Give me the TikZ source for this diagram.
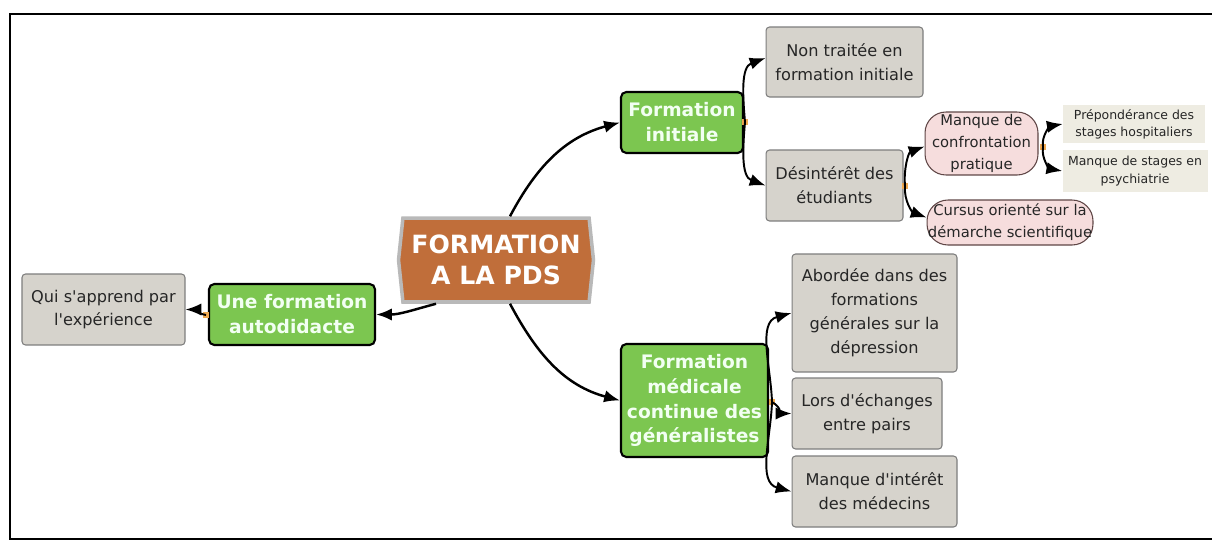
\documentclass[tikz,border=0pt]{standalone}
\usepackage{fontspec}
\setsansfont{DejaVu Sans}
\usetikzlibrary{arrows.meta,shapes.symbols}

\definecolor{pdsbrown}{RGB}{192,110,58}
\definecolor{pdsrim}{RGB}{185,185,185}
\definecolor{branchgreen}{RGB}{124,198,80}
\definecolor{leafgrey}{RGB}{214,211,204}
\definecolor{leafrim}{RGB}{125,125,125}
\definecolor{subpink}{RGB}{246,221,221}
\definecolor{subrim}{RGB}{95,70,70}
\definecolor{tipbeige}{RGB}{238,236,226}
\definecolor{knot}{RGB}{238,168,80}

\newcommand{\apos}{\textquotesingle}

\begin{document}
\begin{tikzpicture}[x=0.02cm, y=-0.02cm, font=\sffamily, >={Latex[length=9pt,width=7pt]},
    root/.style={signal, signal to=west and east, signal pointer angle=168, fill=pdsbrown,
        draw=pdsrim, line width=2pt, text=white, align=center, inner sep=0pt,
        font=\sffamily\bfseries\fontsize{14.3}{18}\selectfont},
    branch/.style={rectangle, rounded corners=3pt, fill=branchgreen, draw=black, line width=1.2pt,
        text=white!95!green, align=center, inner sep=0pt,
        font=\sffamily\bfseries\fontsize{10.6}{14.2}\selectfont},
    leaf/.style={rectangle, rounded corners=2pt, fill=leafgrey, draw=leafrim, line width=0.6pt,
        text=black!85, align=center, inner sep=0pt,
        font=\sffamily\fontsize{9.2}{13.6}\selectfont},
    sub/.style={rectangle, rounded corners=0.42cm, fill=subpink, draw=subrim, line width=0.6pt,
        text=black!85, align=center, inner sep=0pt,
        font=\sffamily\fontsize{8.4}{12.5}\selectfont},
    tip/.style={rectangle, fill=tipbeige, text=black!85, align=center, inner sep=0pt,
        font=\sffamily\fontsize{7.1}{9.8}\selectfont},
    knotdot/.style={rectangle, fill=knot, minimum size=3pt, inner sep=0pt},
    link/.style={->, line width=1.1pt},
    mainlink/.style={->, line width=1.4pt}]
    \useasboundingbox (0,0) rectangle (1212,541);

    % Frame.
    \draw [line width=1.2pt] (1212,14) -- (10,14) -- (10,539) -- (1212,539);

    % Centre.
    \node [root, minimum width=3.9cm, minimum height=1.68cm] (pds) at (496,260) {FORMATION\\A LA PDS};

    % Main branches.
    \node [branch, minimum width=2.44cm, minimum height=1.22cm] (initiale) at (682,122.5) {Formation\\initiale};
    \node [branch, minimum width=3.32cm, minimum height=1.22cm] (auto) at (292,314.5) {Une formation\\autodidacte};
    \node [branch, minimum width=2.94cm, minimum height=2.26cm] (fmc) at (694.5,400.5) {Formation\\m\'edicale\\continue des\\g\'en\'eralistes};

    % Leaves.
    \node [leaf, minimum width=3.14cm, minimum height=1.40cm] (nontraitee) at (844.5,62) {Non trait\'ee en\\formation initiale};
    \node [leaf, minimum width=2.74cm, minimum height=1.42cm] (desinteret) at (834.5,185.5) {D\'esint\'er\^et des\\\'etudiants};
    \node [leaf, minimum width=3.26cm, minimum height=1.42cm] (experience) at (103.5,309.5) {Qui s\apos{}apprend par\\l\apos{}exp\'erience};
    \node [leaf, minimum width=3.30cm, minimum height=2.36cm] (abordee) at (874.5,313) {Abord\'ee dans des\\formations\\g\'en\'erales sur la\\d\'epression};
    \node [leaf, minimum width=3.00cm, minimum height=1.42cm] (pairs) at (867,413.5) {Lors d\apos{}\'echanges\\entre pairs};
    \node [leaf, minimum width=3.30cm, minimum height=1.42cm] (medecins) at (874.5,491.5) {Manque d\apos{}int\'er\^et\\des m\'edecins};

    % Sub-branches of the students.
    \node [sub, minimum width=2.26cm, minimum height=1.26cm] (pratique) at (981.5,143.5) {Manque de\\confrontation\\pratique};
    \node [sub, minimum width=3.32cm, minimum height=0.90cm] (cursus) at (1010,222.5) {Cursus orient\'e sur la\\d\'emarche scientifique};
    \node [tip, minimum width=2.84cm, minimum height=0.76cm] (hospitaliers) at (1134,124) {Pr\'epond\'erance des\\stages hospitaliers};
    \node [tip, minimum width=2.90cm, minimum height=0.84cm] (psychiatrie) at (1135,171) {Manque de stages en\\psychiatrie};

    % Knots.
    \node [knotdot] (kinit) at (745,122) {};
    \node [knotdot] (kdes) at (905,186) {};
    \node [knotdot] (kprat) at (1043,147) {};
    \node [knotdot] (kfmc) at (772,402) {};
    \node [knotdot] (kauto) at (206,315) {};

    % Arrows from the centre.
    \draw [mainlink] ([xshift=0.28cm]pds.north) to[out=62, in=195] (initiale.west);
    \draw [mainlink] ([xshift=0.28cm]pds.south) to[out=-62, in=165] (fmc.west);
    \draw [mainlink] ([xshift=-1.2cm]pds.south) to[out=195, in=0] (auto.east);

    % Arrows to the leaves.
    \draw [link] (kinit.center) to[out=95, in=200] ([yshift=0.08cm]nontraitee.west);
    \draw [link] (kinit.center) to[out=-95, in=160] (desinteret.west);
    \draw [link] (kdes.center) to[out=95, in=200] ([yshift=-0.06cm]pratique.west);
    \draw [link] (kdes.center) to[out=-95, in=160] ([yshift=0.1cm]cursus.west);
    \draw [link] (kprat.center) to[out=100, in=190] (hospitaliers.west);
    \draw [link] (kprat.center) to[out=-100, in=170] (psychiatrie.west);
    \draw [link] (kfmc.center) to[out=92, in=195] (abordee.west);
    \draw [link] (kfmc.center) to[out=-30, in=180] (pairs.west);
    \draw [link] (kfmc.center) to[out=-92, in=165] (medecins.west);
    \draw [link] (kauto.center) to[out=170, in=0] (experience.east);

\end{tikzpicture}
\end{document}
